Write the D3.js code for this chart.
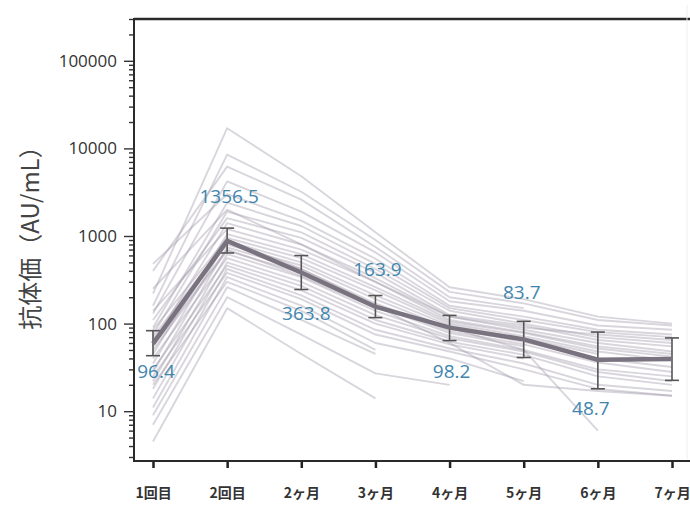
<!DOCTYPE html>
<html>
<head>
<meta charset="utf-8">
<script src="https://cdn.jsdelivr.net/npm/d3@7"></script>
<style>
  body { margin: 0; background: #fff; }
  svg { display: block; }
</style>
</head>
<body>
<svg width="690" height="506"></svg>
<script>
// Time points
const timePoints = ["1回目", "2回目", "2ヶ月", "3ヶ月", "4ヶ月", "5ヶ月", "6ヶ月", "7ヶ月"];

// Geometric mean and error bar range
const meanValues = [59, 880, 383, 156, 90, 66, 38.7, 39.5];
const errLow = [43, 640, 245, 117, 64, 41, 18, 22.5];
const errHigh = [83, 1230, 598, 209, 124, 106, 80, 68.6];

// Printed labels (no label at 7ヶ月)
const labelTexts = ["96.4", "1356.5", "363.8", "163.9", "98.2", "83.7", "48.7"];

// Individual subjects (null = not measured)
const subjects = [
  [220, 17000, 4800, 1100, 260, 190, 120, 100],
  [160, 8500, 3200, 900, 230, 170, 110, 95],
  [400, 6200, 2600, 750, 200, 150, null, null],
  [130, 4200, 1900, 650, 180, 140, 95, 85],
  [480, 3000, 1500, 550, 160, 120, 85, 75],
  [90, 2400, 1300, 480, 150, 110, 80, 70],
  [75, 1900, 1100, 420, 140, 100, 70, 60],
  [110, 1600, 950, 380, 125, 95, 65, 55],
  [60, 1400, 800, 330, 120, 85, 60, 48],
  [140, 1200, 700, 300, 110, 80, 55, 45],
  [45, 1050, 620, 260, 105, 78, 52, 42],
  [85, 950, 560, 240, 100, 72, 48, 38],
  [35, 880, 500, 210, 95, 68, 45, null],
  [65, 800, 460, 190, 88, 62, 40, 32],
  [28, 740, 420, 170, 82, 58, 36, 28],
  [50, 680, 380, 160, 78, 55, null, null],
  [22, 620, 340, 140, 72, 50, 30, 25],
  [40, 560, 300, 125, 68, 48, 28, 22],
  [18, 500, 270, 110, 62, 44, 25, 20],
  [30, 460, 240, 100, 58, 40, null, null],
  [14, 420, 210, 85, 52, 35, 20, 17],
  [25, 380, 190, 75, 48, 30, 18, 15],
  [11, 340, 160, 60, 40, 22, null, null],
  [20, 300, 140, 50, null, null, null, null],
  [9, 260, 110, 45, null, null, null, null],
  [7, 200, 75, 27, 20, null, null, null],
  [4.5, 150, 45, 14, null, null, null, null],
  [55, 700, 350, 150, 90, 50, 6, null],
  [70, 900, 420, 160, 60, 20, 17, 15],
  [250, 2000, 800, 300, 120, 90, 75, 65]
];

const width = 690;
const height = 506;
const margin = { top: 19, right: 0, bottom: 45, left: 134 };

// label placement relative to the mean point (pixels)
const labelOffsets = [[3, 27], [2, -45], [5, 40], [2, -38], [2, 43], [-2, -47], [-7, 48]];

const svg = d3.select("svg");

// X and Y scale
const x = d3.scalePoint()
  .domain(timePoints)
  .range([153, 672]);

const y = d3.scaleLog()
  .domain([2.7, 300000])
  .range([height - margin.bottom, margin.top]);

// log ticks: 2..9 x 10^k inside the domain
const yTicks = [];
for (let k = 0; k <= 5; k++) {
  for (let m = 1; m <= 9; m++) {
    const v = m * Math.pow(10, k);
    if (v >= 3 && v <= 300000) yTicks.push(v);
  }
}
const isMajor = v => Math.abs(Math.log10(v) - Math.round(Math.log10(v))) < 1e-9;

// Y axis
const yAxis = svg.append("g")
  .attr("transform", `translate(${margin.left},0)`)
  .call(d3.axisLeft(y)
    .tickValues(yTicks)
    .tickSize(10)
    .tickPadding(7)
    .tickFormat(v => isMajor(v) ? d3.format("d")(v) : ""));
yAxis.select(".domain").remove();
yAxis.selectAll(".tick line")
  .attr("stroke", "#333")
  .attr("stroke-width", 1.4)
  .attr("x2", d => isMajor(d) ? -10 : -5);
yAxis.selectAll(".tick text")
  .attr("fill", "#333")
  .style("font-family", "'Open Sans', sans-serif")
  .style("font-size", "17px");

// X axis
const xAxis = svg.append("g")
  .attr("transform", `translate(0,${height - margin.bottom})`)
  .call(d3.axisBottom(x).tickSize(7).tickSizeOuter(0));
xAxis.select(".domain").remove();
xAxis.selectAll(".tick line")
  .attr("stroke", "#222")
  .attr("stroke-width", 2.5);
xAxis.selectAll(".tick text")
  .attr("y", 37)
  .attr("dy", 0)
  .attr("fill", "#333")
  .style("font-family", "'Noto Sans CJK JP', sans-serif")
  .style("font-size", "14px")
  .style("font-weight", "bold");

// Frame lines
svg.append("line")
  .attr("x1", margin.left).attr("x2", width)
  .attr("y1", margin.top).attr("y2", margin.top)
  .attr("stroke", "#2a2a2a").attr("stroke-width", 2.5);
svg.append("line")
  .attr("x1", margin.left).attr("x2", margin.left)
  .attr("y1", margin.top - 1).attr("y2", height - margin.bottom + 1)
  .attr("stroke", "#2a2a2a").attr("stroke-width", 2);
svg.append("line")
  .attr("x1", margin.left - 1).attr("x2", width)
  .attr("y1", height - margin.bottom).attr("y2", height - margin.bottom)
  .attr("stroke", "#2a2a2a").attr("stroke-width", 2);
svg.append("line")
  .attr("x1", 687).attr("x2", 687)
  .attr("y1", 5).attr("y2", height - margin.bottom - 2)
  .attr("stroke", "#eeeeee").attr("stroke-width", 1);

// Individual lines
const line = d3.line()
  .defined(d => d.v != null)
  .x(d => x(d.t))
  .y(d => y(d.v));

svg.append("g")
  .attr("fill", "none")
  .attr("stroke", "rgb(162,155,172)")
  .attr("stroke-opacity", 0.42)
  .attr("stroke-width", 1.9)
  .attr("stroke-linejoin", "round")
  .selectAll("path")
  .data(subjects)
  .join("path")
  .attr("d", s => line(s.map((v, i) => ({ t: timePoints[i], v }))));

// Error bars
const bars = svg.append("g")
  .attr("stroke", "#555")
  .attr("stroke-width", 1.6);
timePoints.forEach((t, i) => {
  const cx = x(t);
  bars.append("line")
    .attr("x1", cx).attr("x2", cx)
    .attr("y1", y(errLow[i])).attr("y2", y(errHigh[i]));
  bars.append("line")
    .attr("x1", cx - 7).attr("x2", cx + 7)
    .attr("y1", y(errLow[i])).attr("y2", y(errLow[i]));
  bars.append("line")
    .attr("x1", cx - 7).attr("x2", cx + 7)
    .attr("y1", y(errHigh[i])).attr("y2", y(errHigh[i]));
});

// Mean line
svg.append("path")
  .datum(meanValues.map((v, i) => ({ t: timePoints[i], v })))
  .attr("fill", "none")
  .attr("stroke", "#78737e")
  .attr("stroke-width", 4.5)
  .attr("stroke-linejoin", "round")
  .attr("d", line);

// Value labels
svg.append("g")
  .style("font-family", "'Open Sans', sans-serif")
  .style("font-size", "19px")
  .attr("fill", "#3f86ad")
  .attr("text-anchor", "middle")
  .selectAll("text")
  .data(labelTexts)
  .join("text")
  .attr("x", (d, i) => x(timePoints[i]) + labelOffsets[i][0])
  .attr("y", (d, i) => y(meanValues[i]) + labelOffsets[i][1])
  .attr("dominant-baseline", "central")
  .text(d => d);

// Y axis title
svg.append("text")
  .attr("transform", "translate(28,232) rotate(-90)")
  .attr("text-anchor", "middle")
  .attr("dominant-baseline", "central")
  .attr("fill", "#444")
  .style("font-family", "'Noto Sans CJK JP', sans-serif")
  .style("font-size", "24px")
  .text("抗体価（AU/mL）");
</script>
</body>
</html>
